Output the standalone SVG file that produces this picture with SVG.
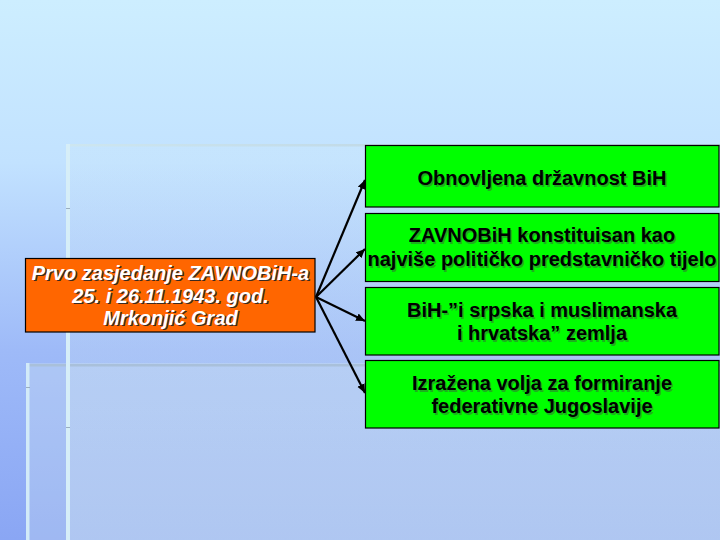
<svg xmlns="http://www.w3.org/2000/svg" width="720" height="540" viewBox="0 0 720 540">
  <defs>
    <linearGradient id="bg" x1="0" y1="0" x2="0" y2="1">
      <stop offset="0" stop-color="#CDEEFF"/>
      <stop offset="0.3" stop-color="#C2E2FF"/>
      <stop offset="0.65" stop-color="#9EBAF8"/>
      <stop offset="1" stop-color="#8AA6F4"/>
    </linearGradient>
    <linearGradient id="panelA" x1="0" y1="0" x2="0" y2="1">
      <stop offset="0" stop-color="#E6F8F0" stop-opacity="0.08"/>
      <stop offset="1" stop-color="#E6F8F0" stop-opacity="0.24"/>
    </linearGradient>
    <linearGradient id="hlineA" x1="0" y1="0" x2="1" y2="0">
      <stop offset="0" stop-color="#CDE6F0"/>
      <stop offset="1" stop-color="#B4CCDC"/>
    </linearGradient>
    <marker id="arr" markerUnits="userSpaceOnUse" markerWidth="12" markerHeight="10" refX="9" refY="4" orient="auto">
      <path d="M0,0 L9,4 L0,8 Z" fill="#000"/>
    </marker>
  </defs>
  <style>
    .conn { stroke:#000; stroke-width:2.2; fill:none; marker-end:url(#arr); }
    .green { fill:#00FF00; stroke:#000; stroke-width:1.2; }
    .orange { fill:#FF6600; stroke:#000; stroke-width:1.2; }
    .gt { font-family:"Liberation Sans", Arial, sans-serif; font-weight:bold; font-size:20px; text-anchor:middle; fill:#000; }
    .gs { font-family:"Liberation Sans", Arial, sans-serif; font-weight:bold; font-size:20px; text-anchor:middle; fill:#3a6a3a; fill-opacity:0.55; }
    .ot { font-family:"Liberation Sans", Arial, sans-serif; font-weight:bold; font-style:italic; font-size:20px; text-anchor:middle; fill:#FFFFFF; }
    .os { font-family:"Liberation Sans", Arial, sans-serif; font-weight:bold; font-style:italic; font-size:20px; text-anchor:middle; fill:#3a2a20; }
  </style>

  <!-- background -->
  <rect x="0" y="0" width="720" height="540" fill="url(#bg)"/>
  <rect x="66" y="144" width="654" height="396" fill="url(#panelA)"/>
  <rect x="26" y="363" width="694" height="177" fill="#E2F4F0" fill-opacity="0.24"/>
  <rect x="66" y="144" width="654" height="2.5" fill="url(#hlineA)"/>
  <rect x="26" y="364" width="694" height="2.5" fill="#A9C0DA"/>
  <rect x="66" y="144" width="4" height="396" fill="#D6EEF8"/>
  <rect x="26" y="363" width="3.5" height="177" fill="#D2EAF8"/>
  <g stroke="#9AAEC0" stroke-width="1">
    <line x1="66" y1="208.5" x2="70" y2="208.5"/>
    <line x1="66" y1="427.5" x2="70" y2="427.5"/>
    <line x1="26" y1="387.5" x2="30" y2="387.5"/>
  </g>

  <!-- connectors -->
  <g id="connectors">
    <line class="conn" x1="316" y1="297" x2="365" y2="180"/>
    <line class="conn" x1="316" y1="297" x2="365" y2="249"/>
    <line class="conn" x1="316" y1="297" x2="365" y2="321"/>
    <line class="conn" x1="316" y1="297" x2="365" y2="393"/>
  </g>

  <!-- source node -->
  <g id="node-source">
    <rect class="orange" x="25.5" y="258.5" width="289.5" height="73.5"/>
    <text class="os" x="172" y="281">Prvo zasjedanje ZAVNOBiH-a</text>
    <text class="ot" x="170.5" y="279.5">Prvo zasjedanje ZAVNOBiH-a</text>
    <text class="os" x="172" y="304">25. i 26.11.1943. god.</text>
    <text class="ot" x="170.5" y="302.5">25. i 26.11.1943. god.</text>
    <text class="os" x="172" y="326">Mrkonjić Grad</text>
    <text class="ot" x="170.5" y="324.5">Mrkonjić Grad</text>
  </g>

  <g id="node-1">
    <rect class="green" x="365.5" y="145.5" width="353.5" height="61.5"/>
    <text class="gs" x="543.5" y="186.5">Obnovljena državnost BiH</text>
    <text class="gt" x="542" y="185">Obnovljena državnost BiH</text>
  </g>

  <g id="node-2">
    <rect class="green" x="365.5" y="213.5" width="353.5" height="68"/>
    <text class="gs" x="543.5" y="243.5">ZAVNOBiH konstituisan kao</text>
    <text class="gt" x="542" y="242">ZAVNOBiH konstituisan kao</text>
    <text class="gs" x="543.5" y="267.5">najviše političko predstavničko tijelo</text>
    <text class="gt" x="542" y="266">najviše političko predstavničko tijelo</text>
  </g>

  <g id="node-3">
    <rect class="green" x="365.5" y="287.5" width="353.5" height="67.5"/>
    <text class="gs" x="543.5" y="318.5">BiH-”i srpska i muslimanska</text>
    <text class="gt" x="542" y="317">BiH-”i srpska i muslimanska</text>
    <text class="gs" x="543.5" y="341.5">i hrvatska” zemlja</text>
    <text class="gt" x="542" y="340">i hrvatska” zemlja</text>
  </g>

  <g id="node-4">
    <rect class="green" x="365.5" y="360.5" width="353.5" height="67.5"/>
    <text class="gs" x="543.5" y="391.5">Izražena volja za formiranje</text>
    <text class="gt" x="542" y="390">Izražena volja za formiranje</text>
    <text class="gs" x="543.5" y="414.5">federativne Jugoslavije</text>
    <text class="gt" x="542" y="413">federativne Jugoslavije</text>
  </g>
</svg>
